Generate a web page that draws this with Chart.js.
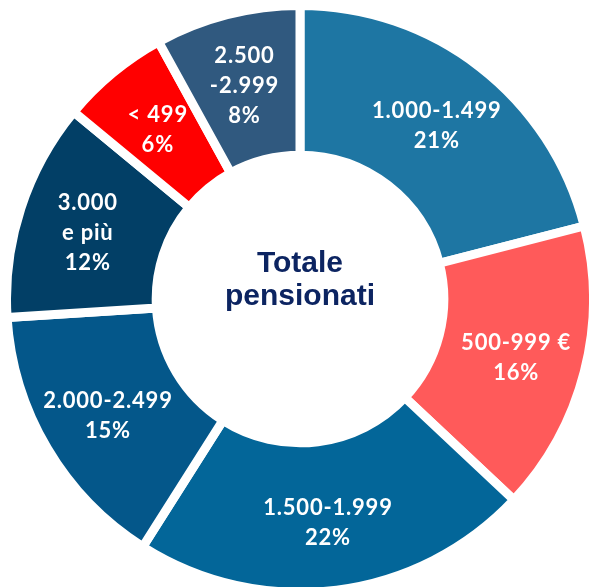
<!DOCTYPE html>
<html>
<head>
<meta charset="utf-8">
<script src="https://cdn.jsdelivr.net/npm/chart.js@4"></script>
<style>
  html, body { margin: 0; padding: 0; background: #ffffff; overflow: hidden; width: 589px; height: 587px; }
  #wrap { position: absolute; left: 0; top: -1px; width: 600px; height: 600px; }
</style>
</head>
<body>
<div id="wrap"><canvas id="c"></canvas></div>
<script>
// Categories (clockwise from 12 o'clock)
const categories = [
  ["1.000-1.499"],
  ["500-999 €"],
  ["1.500-1.999"],
  ["2.000-2.499"],
  ["3.000", "e più"],
  ["< 499"],
  ["2.500", "-2.999"]
];
// Share of pensioners, %
const shares = [21, 16, 22, 15, 12, 6, 8];
const sliceColors = ["#1E76A3", "#FF5A5A", "#036699", "#04578A", "#023F66", "#FF0000", "#30597F"];
const centerTitle = ["Totale", "pensionati"];

const labelPlugin = {
  id: 'sliceLabels',
  afterDatasetsDraw(chart) {
    const ctx = chart.ctx;
    const meta = chart.getDatasetMeta(0);
    ctx.save();
    ctx.fillStyle = '#ffffff';
    ctx.textAlign = 'center';
    ctx.textBaseline = 'middle';
    ctx.font = 'bold 22px Lato';
    if ('letterSpacing' in ctx) ctx.letterSpacing = '0.8px';
    const lh = 30;
    meta.data.forEach((arc, i) => {
      const p = arc.getProps(['x', 'y', 'startAngle', 'endAngle', 'innerRadius', 'outerRadius'], true);
      const a = (p.startAngle + p.endAngle) / 2;
      const r = p.innerRadius + (p.outerRadius - p.innerRadius) * 0.53;
      const cx = p.x + Math.cos(a) * r;
      const cy = p.y + Math.sin(a) * r + 3;
      const lines = categories[i].concat([shares[i] + '%']);
      const y0 = cy - (lines.length - 1) * lh / 2;
      lines.forEach((t, k) => ctx.fillText(t, cx, y0 + k * lh));
    });
    // centre title
    if ('letterSpacing' in ctx) ctx.letterSpacing = '0px';
    const c = meta.data[0];
    ctx.fillStyle = '#0C2461';
    ctx.font = 'bold 30px "Liberation Sans", Arial, sans-serif';
    ctx.textBaseline = 'alphabetic';
    ctx.fillText(centerTitle[0], c.x, c.y - 27);
    ctx.fillText(centerTitle[1], c.x, c.y + 6);
    ctx.restore();
  }
};

new Chart(document.getElementById('c'), {
  type: 'doughnut',
  data: {
    labels: categories.map(l => l.join(' ')),
    datasets: [{
      data: shares,
      backgroundColor: sliceColors,
      borderColor: '#ffffff',
      borderWidth: 9,
      hoverOffset: 0
    }]
  },
  options: {
    responsive: true,
    maintainAspectRatio: false,
    animation: false,
    cutout: '49%',
    layout: { padding: 2 },
    plugins: { legend: { display: false }, tooltip: { enabled: false } }
  },
  plugins: [labelPlugin]
});
</script>
</body>
</html>
